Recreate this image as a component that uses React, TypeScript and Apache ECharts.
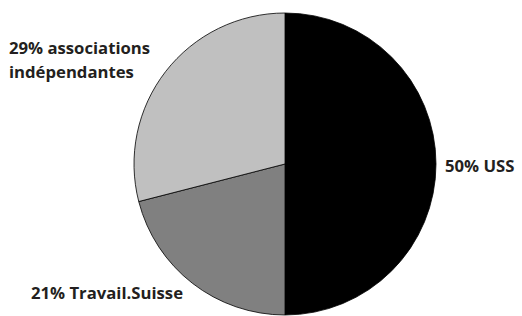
import React, { useEffect, useRef } from "react";
import * as echarts from "echarts";

const categories = ["USS", "Travail.Suisse", "associations\nindépendantes"];
const values = [50, 21, 29];
const colors = ["#000000", "#808080", "#c0c0c0"];
// label anchor positions (left-aligned start x, vertical center y)
const labelPos = [
  { x: 445, y: 165 },
  { x: 31, y: 292 },
  { x: 9, y: 59 },
];

export default function App() {
  const ref = useRef<HTMLDivElement>(null);
  useEffect(() => {
    document.body.style.margin = "0";
    const chart = echarts.init(ref.current!, null, { renderer: "svg" });
    chart.setOption({
      animation: false,
      backgroundColor: "#ffffff",
      series: [
        {
          type: "pie",
          center: [285, 164],
          radius: 151,
          startAngle: 90,
          clockwise: true,
          silent: true,
          data: categories.map((c, i) => ({
            name: c,
            value: values[i],
            itemStyle: { color: colors[i] },
          })),
          itemStyle: { borderColor: "#000000", borderWidth: 0.8 },
          label: {
            show: true,
            formatter: (p: any) => `${values[p.dataIndex]}% ${p.name}`,
            fontFamily: "Open Sans",
            fontWeight: "bold",
            fontSize: 16.7,
            lineHeight: 24,
            color: "#231f20",
            overflow: "none",
            width: 300,
          },
          labelLine: { show: false },
          labelLayout: (params: any) => ({
            x: labelPos[params.dataIndex].x,
            y: labelPos[params.dataIndex].y,
            align: "left",
            verticalAlign: "middle",
          }),
        },
      ],
    });
    return () => chart.dispose();
  }, []);
  return <div ref={ref} style={{ width: 522, height: 316 }} />;
}
